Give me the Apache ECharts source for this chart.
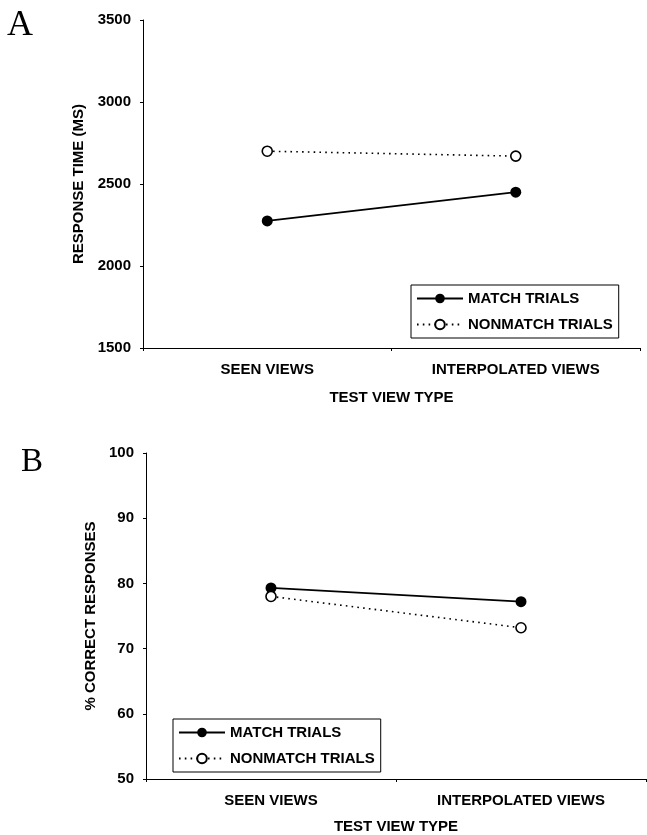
<!DOCTYPE html>
<html>
<head>
<meta charset="utf-8">
<script src="https://cdn.jsdelivr.net/npm/echarts@6/dist/echarts.min.js"></script>
<style>
  html, body { margin: 0; padding: 0; background: #fff; }
  #chart { width: 647px; height: 835px; }
</style>
</head>
<body>
<div id="chart"></div>
<script>
// 类别
const categories = ["SEEN VIEWS", "INTERPOLATED VIEWS"];
const seriesNames = ["MATCH TRIALS", "NONMATCH TRIALS"];
// A: response time (ms)
const rtMatch = [2275, 2450];
const rtNonmatch = [2700, 2670];
// B: % correct
const pcMatch = [79.3, 77.2];
const pcNonmatch = [78.0, 73.2];

const labelFont = "Liberation Sans, Arial, sans-serif";
const black = "#000";
const fs = 15;

function xAxisCfg(gridIndex, nameGap) {
  return {
    gridIndex: gridIndex,
    type: "category",
    data: categories,
    name: "TEST VIEW TYPE",
    nameLocation: "middle",
    nameGap: nameGap,
    nameTextStyle: { color: black, fontWeight: "bold", fontSize: fs, fontFamily: labelFont },
    axisLine: { lineStyle: { color: black, width: 1 } },
    axisTick: { show: true, length: 3, lineStyle: { color: black } },
    axisLabel: { color: black, fontWeight: "bold", fontSize: fs, fontFamily: labelFont, margin: 14 },
    splitLine: { show: false },
  };
}

function yAxisCfg(gridIndex, name, min, max, interval, nameGap) {
  return {
    gridIndex: gridIndex,
    type: "value",
    name: name,
    min: min,
    max: max,
    interval: interval,
    nameLocation: "middle",
    nameGap: nameGap,
    nameTextStyle: { color: black, fontWeight: "bold", fontSize: fs, fontFamily: labelFont },
    axisLine: { show: true, lineStyle: { color: black, width: 1 } },
    axisTick: { show: true, length: 3, lineStyle: { color: black } },
    axisLabel: {
      color: black, fontWeight: "bold", fontSize: fs, fontFamily: labelFont, margin: 12,
      formatter: (v) => String(v),
    },
    splitLine: { show: false },
  };
}

function matchSeries(idx, data) {
  return {
    name: seriesNames[0],
    type: "line",
    xAxisIndex: idx,
    yAxisIndex: idx,
    data: data,
    symbol: "circle",
    symbolSize: 11,
    itemStyle: { color: black },
    lineStyle: { color: black, width: 1.8, type: "solid" },
    z: 3,
  };
}

function nonmatchSeries(idx, data) {
  return {
    name: seriesNames[1],
    type: "line",
    xAxisIndex: idx,
    yAxisIndex: idx,
    data: data,
    symbol: "circle",
    symbolSize: 10,
    itemStyle: { color: "#fff", borderColor: black, borderWidth: 1.6 },
    lineStyle: { color: black, width: 1.6, type: [1.6, 4.2] },
    z: 4,
  };
}

function legendCfg(left, top) {
  return {
    data: seriesNames,
    orient: "vertical",
    left: left,
    top: top,
    itemWidth: 46,
    itemHeight: 12,
    itemGap: 11,
    padding: [6, 6, 6, 5],
    borderColor: black,
    borderWidth: 1,
    selectedMode: false,
    textStyle: { color: black, fontWeight: "bold", fontSize: fs, fontFamily: labelFont },
  };
}

const chart = echarts.init(document.getElementById("chart"), null, { renderer: "canvas" });

const option = {
  backgroundColor: "#fff",
  animation: false,
  title: [
    { text: "A", left: 7, top: 8, padding: 0,
      textStyle: { fontFamily: "Liberation Serif, Times New Roman, serif", fontWeight: "normal", fontSize: 36, color: black } },
    { text: "B", left: 21, top: 446, padding: 0,
      textStyle: { fontFamily: "Liberation Serif, Times New Roman, serif", fontWeight: "normal", fontSize: 33, color: black } },
  ],
  legend: [legendCfg(411, 285), legendCfg(173, 719)],
  grid: [
    { left: 143, top: 20, right: 7, bottom: 487 },
    { left: 146, top: 453, right: 1, bottom: 55 },
  ],
  xAxis: [xAxisCfg(0, 42), xAxisCfg(1, 40)],
  yAxis: [
    yAxisCfg(0, "RESPONSE TIME (MS)", 1500, 3500, 500, 56),
    yAxisCfg(1, "% CORRECT RESPONSES", 50, 100, 10, 48),
  ],
  series: [
    matchSeries(0, rtMatch),
    nonmatchSeries(0, rtNonmatch),
    matchSeries(1, pcMatch),
    nonmatchSeries(1, pcNonmatch),
  ],
};

chart.setOption(option);
</script>
</body>
</html>
